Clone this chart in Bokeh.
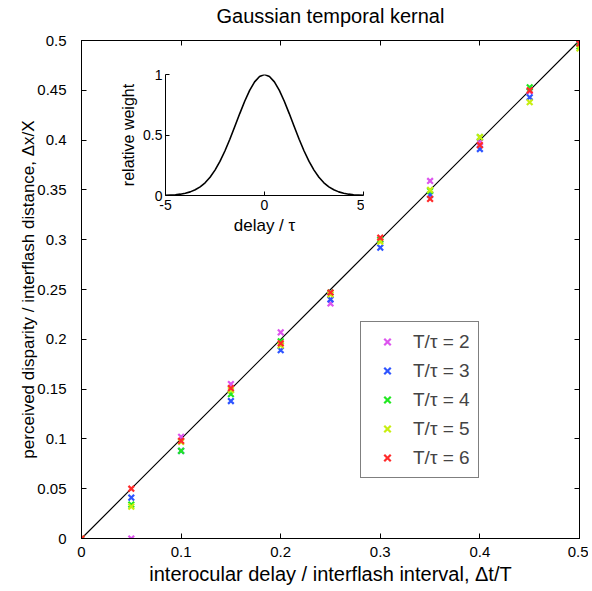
from bokeh.plotting import figure
from bokeh.models import LinearAxis, FixedTicker, Legend, LegendItem, Range1d
from bokeh.layouts import column
from bokeh.embed import file_html
from bokeh.resources import INLINE

# ---- data ----
interval = [0, 0.05, 0.1, 0.15, 0.2, 0.25, 0.3, 0.35, 0.4, 0.45, 0.5]
disp_T2 = [0, 0.000, 0.102, 0.155, 0.207, 0.236, 0.300, 0.359, 0.398, 0.449, 0.498]
disp_T3 = [0, 0.041, 0.088, 0.138, 0.189, 0.240, 0.292, 0.345, 0.391, 0.443, 0.497]
disp_T4 = [0, 0.034, 0.088, 0.145, 0.198, 0.247, 0.300, 0.349, 0.403, 0.453, 0.494]
disp_T5 = [0, 0.032, 0.097, 0.149, 0.194, 0.245, 0.298, 0.350, 0.403, 0.438, 0.492]
disp_T6 = [0, 0.050, 0.098, 0.151, 0.196, 0.247, 0.302, 0.341, 0.395, 0.450, 0.497]
series_labels = ["T/\u03c4 = 2", "T/\u03c4 = 3", "T/\u03c4 = 4", "T/\u03c4 = 5", "T/\u03c4 = 6"]
series_colors = ["#dd55ee", "#2f55ff", "#22e822", "#c8ee10", "#ff2a2a"]
zero_line = [0] * len(interval)
title_text = "Gaussian temporal kernal"

x_ticks = [0, 0.1, 0.2, 0.3, 0.4, 0.5]
x_tick_labels = ["0", "0.1", "0.2", "0.3", "0.4", "0.5"]
y_ticks = [0, 0.05, 0.1, 0.15, 0.2, 0.25, 0.3, 0.35, 0.4, 0.45, 0.5]
y_tick_labels = ["0", "0.05", "0.1", "0.15", "0.2", "0.25", "0.3", "0.35", "0.4", "0.45", "0.5"]

delay = [-5, -4.75, -4.5, -4.25, -4, -3.75, -3.5, -3.25, -3, -2.75, -2.5, -2.25, -2,
         -1.75, -1.5, -1.25, -1, -0.75, -0.5, -0.25, 0, 0.25, 0.5, 0.75, 1, 1.25, 1.5,
         1.75, 2, 2.25, 2.5, 2.75, 3, 3.25, 3.5, 3.75, 4, 4.25, 4.5, 4.75, 5]
weight = [0.002, 0.004, 0.006, 0.011, 0.018, 0.030, 0.047, 0.071, 0.105, 0.151, 0.210,
          0.282, 0.368, 0.465, 0.570, 0.677, 0.779, 0.869, 0.939, 0.984, 1.000, 0.984,
          0.939, 0.869, 0.779, 0.677, 0.570, 0.465, 0.368, 0.282, 0.210, 0.151, 0.105,
          0.071, 0.047, 0.030, 0.018, 0.011, 0.006, 0.004, 0.002]
inset_x_ticks = [-5, 0, 5]
inset_x_tick_labels = ["-5", "0", "5"]
inset_y_ticks = [0, 0.5, 1]
inset_y_tick_labels = ["0", "0.5", "1"]

FONT = "Liberation Sans"


def make_axis(ticks, labels, show_labels=True, label="", tick_len=5, font_size="15px",
              standoff=8, label_size="18px", label_standoff=6):
    ax = LinearAxis(ticker=FixedTicker(ticks=ticks),
                    major_label_overrides={t: s for t, s in zip(ticks, labels)},
                    major_tick_in=tick_len, major_tick_out=0,
                    minor_tick_line_color=None,
                    axis_line_color="black", major_tick_line_color="black",
                    major_label_text_font=FONT,
                    major_label_text_color="black" if show_labels else None,
                    major_label_standoff=standoff if show_labels else 0,
                    major_label_text_font_size=font_size if show_labels else "0px")
    if label:
        ax.axis_label = label
        ax.axis_label_text_font = FONT
        ax.axis_label_text_font_style = "normal"
        ax.axis_label_text_font_size = label_size
        ax.axis_label_text_color = "black"
        ax.axis_label_standoff = label_standoff
    return ax


# ---- main figure ----
p = figure(frame_width=498, frame_height=498, x_range=Range1d(0, 0.5), y_range=Range1d(0, 0.5),
           x_axis_type=None, y_axis_type=None, toolbar_location=None,
           output_backend="svg", min_border_left=81, min_border_right=9,
           min_border_top=40, min_border_bottom=53, outline_line_color="black",
           background_fill_color="white", border_fill_color="white")
p.grid.visible = False

p.add_layout(make_axis(y_ticks, y_tick_labels, True,
                       "perceived disparity / interflash distance, \u0394x/X",
                       standoff=15, label_size="17px", label_standoff=-4), "left")
p.add_layout(make_axis(x_ticks, x_tick_labels, True,
                       "interocular delay / interflash interval, \u0394t/T",
                       standoff=8, label_size="20px", label_standoff=3), "below")
p.add_layout(make_axis(y_ticks, y_tick_labels, False), "right")
# the top axis carries the chart title as its label
p.add_layout(make_axis(x_ticks, x_tick_labels, False, title_text, label_size="20px",
                       label_standoff=14), "above")

p.line(interval, interval, line_color="black", line_width=1.2)
p.line(interval, zero_line, line_color="#cc1122", line_width=1.2)

renderers = []
for vals, col in zip([disp_T2, disp_T3, disp_T4, disp_T5, disp_T6], series_colors):
    r = p.scatter(interval, vals, marker="x", size=8, line_width=2.2, line_color=col)
    renderers.append(r)

legend = Legend(items=[LegendItem(label=l, renderers=[r]) for l, r in zip(series_labels, renderers)],
                location=(279, 60), border_line_color="black", border_line_width=1,
                background_fill_color="white", background_fill_alpha=1,
                label_text_font=FONT, label_text_font_size="19px",
                glyph_width=36, glyph_height=23, label_height=23, spacing=6,
                padding=8, label_standoff=8, margin=0)
p.add_layout(legend)

# ---- inset ----
q = figure(frame_width=198, frame_height=121, x_range=Range1d(-5, 5), y_range=Range1d(0, 1),
           x_axis_type=None, y_axis_type=None, toolbar_location=None,
           output_backend="svg", min_border_left=70, min_border_right=12,
           min_border_top=14, min_border_bottom=45, outline_line_color=None,
           background_fill_alpha=0, border_fill_alpha=0)
q.grid.visible = False
q.add_layout(make_axis(inset_y_ticks, inset_y_tick_labels, True, "relative weight",
                       tick_len=4, font_size="14px", standoff=3, label_size="16px",
                       label_standoff=3), "left")
q.add_layout(make_axis(inset_x_ticks, inset_x_tick_labels, True, "delay / \u03c4",
                       tick_len=4, font_size="14px", standoff=4, label_size="17px",
                       label_standoff=3), "below")
q.line(delay, weight, line_color="black", line_width=1.6)

q.styles = {"position": "absolute", "left": "84px", "top": "60px"}
layout = column(p, q)
layout.styles = {"position": "relative"}

open("out.html", "w").write(file_html(layout, INLINE))
